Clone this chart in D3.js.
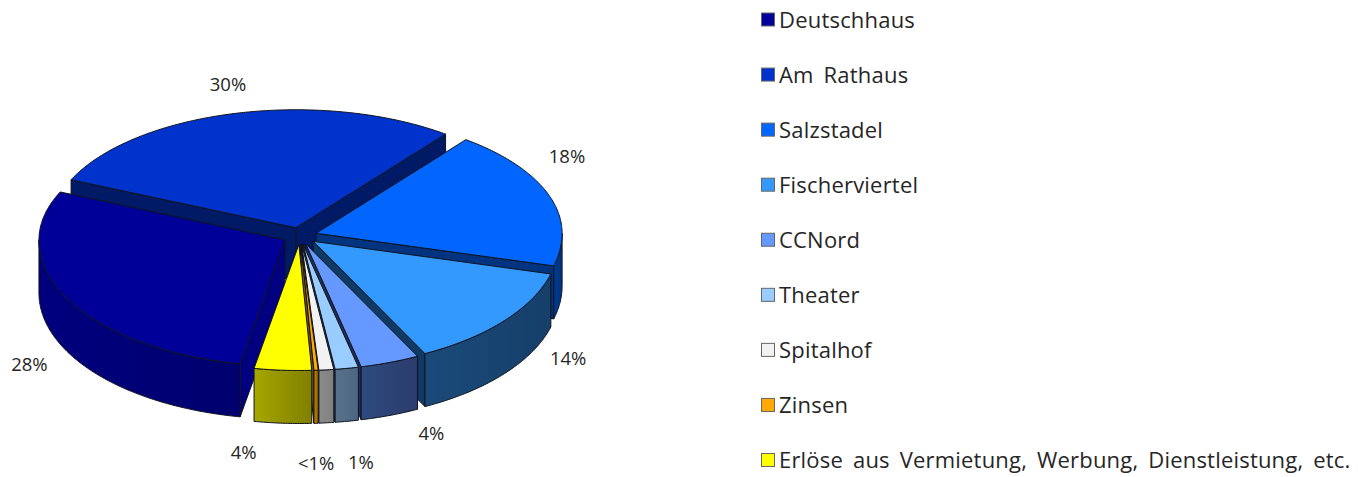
<!DOCTYPE html>
<html><head><meta charset="utf-8">
<script src="https://cdn.jsdelivr.net/npm/d3@7"></script>
<style>html,body{margin:0;background:#fff;overflow:hidden}text{font-family:"Open Sans",sans-serif;fill:#262626}</style>
</head><body><svg id="c" width="1358" height="477"></svg>
<script>
const categories=["Deutschhaus","Am Rathaus","Salzstadel","Fischerviertel","CCNord","Theater","Spitalhof","Zinsen","Erlöse aus Vermietung, Werbung, Dienstleistung, etc."];
const shares=[28.75,28.75,18.75,13.33,3.89,1.53,0.97,0.28,3.75];
const labels=["28%","30%","18%","14%","4%","1%","","<1%","4%"];
const topColors=["#000099","#0033CC","#0066FF","#3399FF","#6699FF","#99CCFF","#F2F2F2","#FFAA00","#FFFF00"];
const sideLight=["#00007e","#001f80","#003a8c","#1a4a7a","#2f4a80","#57708c","#8c8c8c","#b87a00","#a6a600"];
const sideDark=["#00006e","#001a66","#003380","#163f6a","#2a3c6c","#4d6680","#808080","#a06a00","#808000"];
const wallColors=["#000080","#001a66","#003380","#0f3a66","#1c2f5c","#2f4258","#555","#805500","#666600"];
const drawOrder=[1,2,3,4,5,6,7,0,8];
const labelNudges=[[-37,7],[-7,-21],[17,-37],[63,-22],[41,8],[14,31],[0,0],[0,30],[-39,19]];

const svg=d3.select("#c"), defs=svg.append("defs");
const cx=300, cy=236, rx=246, ryBack=118, ryFront=126, depth=53, explode=17;
const TAU=Math.PI*2, start=190.5/360*TAU;
const arcs=d3.pie().sort(null).startAngle(start).endAngle(start+TAU)(shares);
const sx=a=>rx*Math.sin(a), sy=a=>{const c=Math.cos(a);return -c*(c>0?ryBack:ryFront)};
const line=d3.line().x(d=>d[0]).y(d=>d[1]);
const sample=(a0,a1)=>{const n=Math.max(2,Math.ceil(Math.abs(a1-a0)/0.01));return d3.range(n+1).map(i=>a0+(a1-a0)*i/n)};

function drawSlice(i){
  const d=arcs[i], mid=(d.startAngle+d.endAngle)/2;
  const ox=cx+explode*Math.sin(mid), oy=cy-explode*0.5*Math.cos(mid);
  const P=a=>[ox+sx(a),oy+sy(a)], g=svg.append("g");
  const stroke={stroke:"#10131c","stroke-width":1,"stroke-linejoin":"round"};
  const style=s=>{Object.entries(stroke).forEach(([k,v])=>s.attr(k,v));return s};
  const wall=a=>{const p=P(a);
    style(g.append("path").attr("fill",wallColors[i]).attr("d",line([[ox,oy],p,[p[0],p[1]+depth],[ox,oy+depth]])+"Z"))};
  if(Math.sin(d.startAngle)<0) wall(d.startAngle);
  if(Math.sin(d.endAngle)>0) wall(d.endAngle);
  const lo=Math.max(d.startAngle,Math.PI/2), hi=Math.min(d.endAngle,Math.PI*1.5);
  const lo2=Math.max(d.startAngle,Math.PI*2.5), hi2=Math.min(d.endAngle,Math.PI*3.5);
  [[lo,hi],[lo2,hi2]].forEach(([a,b],k)=>{
    if(b<=a) return;
    const pts=sample(a,b).map(P), back=pts.slice().reverse().map(p=>[p[0],p[1]+depth]);
    const xs=pts.map(p=>p[0]), id=`side${i}_${k}`;
    const gr=defs.append("linearGradient").attr("id",id).attr("gradientUnits","userSpaceOnUse")
      .attr("x1",d3.min(xs)).attr("x2",d3.max(xs)).attr("y1",0).attr("y2",0);
    gr.append("stop").attr("offset",0).attr("stop-color",sideLight[i]);
    gr.append("stop").attr("offset",1).attr("stop-color",sideDark[i]);
    style(g.append("path").attr("fill",`url(#${id})`).attr("d",line(pts.concat(back))+"Z"));
  });
  const top=[[ox,oy]].concat(sample(d.startAngle,d.endAngle).map(P));
  style(g.append("path").attr("fill",topColors[i]).attr("d",line(top)+"Z"));
}
drawOrder.forEach(drawSlice);

arcs.forEach((d,i)=>{
  if(!labels[i]) return;
  const mid=(d.startAngle+d.endAngle)/2, c=Math.cos(mid);
  const x=cx+(rx+18)*Math.sin(mid)+labelNudges[i][0];
  const y=cy-(c>0?ryBack+18:ryFront+18)*c+(c<0?depth:0)+labelNudges[i][1];
  svg.append("text").attr("x",x).attr("y",y).attr("text-anchor","middle").attr("dominant-baseline","central")
    .attr("font-size",18.5).text(labels[i]);
});

const legendY=d3.scalePoint().domain(categories).range([19.5,460]);
const leg=svg.append("g").selectAll("g").data(categories).join("g");
leg.append("rect").attr("x",761.5).attr("y",c=>legendY(c)-6.5).attr("width",13).attr("height",13)
  .attr("fill",(c,i)=>topColors[i]).attr("stroke","#666").attr("stroke-width",1);
leg.append("text").attr("x",779).attr("y",c=>legendY(c)-1).attr("dominant-baseline","central")
  .attr("font-size",22).attr("letter-spacing",0.2).attr("word-spacing",4).text(c=>c);
</script></body></html>
